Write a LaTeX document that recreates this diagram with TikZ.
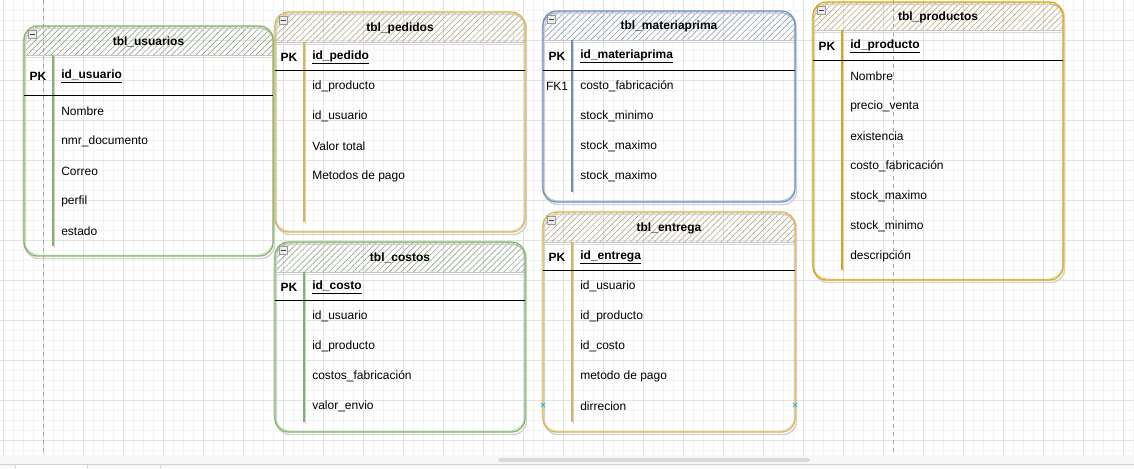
\documentclass[tikz,border=0pt]{standalone}
\usepackage{fontspec}
\setmainfont{Liberation Sans}
\usepackage{xcolor}
\usetikzlibrary{patterns.meta}
\definecolor{GreenLine}{HTML}{82B366}
\definecolor{GreenHatch}{HTML}{9AA991}
\definecolor{YellowLine}{HTML}{D6B656}
\definecolor{YellowHatch}{HTML}{B9B08E}
\definecolor{BlueLine}{HTML}{6C8EBF}
\definecolor{BlueHatch}{HTML}{98A6BA}
\definecolor{GoldLine}{HTML}{DCA40E}
\definecolor{GoldHatch}{HTML}{BFB084}
\definecolor{GridMinor}{HTML}{F3F3F3}
\definecolor{GridMajor}{HTML}{E2E2E2}
\definecolor{MarkBlue}{HTML}{29B6F2}

\begin{document}
\begin{tikzpicture}[
 x=0.75pt, y=-0.75pt,
 gridminor/.style={GridMinor, line width=0.5pt},
 gridmajor/.style={GridMajor, line width=0.6pt},
 pagebreak/.style={gray!70, dashed, line width=0.5pt},
 shadowline/.style={gray!35, line width=1.1pt, rounded corners=10},
 tableline/.style={line width=0.9pt, rounded corners=10},
 tabletitle/.style={font=\bfseries\fontsize{9}{11}\selectfont, inner sep=0pt, yshift=-1pt},
 keytext/.style={font=\bfseries\fontsize{9}{11}\selectfont, inner sep=0pt, yshift=-1.1pt},
 field/.style={anchor=west, font=\fontsize{9}{11}\selectfont, inner sep=0pt, yshift=-1.1pt},
 markline/.style={MarkBlue, line width=0.6pt}
]
\useasboundingbox (0,0) rectangle (1134,468);
\fill[white] (0,0) rectangle (1134,468);

% grid of the canvas
\foreach \gx in {3,13,...,1133} \draw[gridminor] (\gx,0) -- (\gx,455);
\foreach \gy in {10,20,...,450} \draw[gridminor] (0,\gy) -- (1134,\gy);
\foreach \gx in {3,43,...,1123} \draw[gridmajor] (\gx,0) -- (\gx,455);
\foreach \gy in {40,80,...,440} \draw[gridmajor] (0,\gy) -- (1134,\gy);
\draw[pagebreak] (43,0) -- (43,455);
\draw[pagebreak] (893,0) -- (893,455);

% bottom bar
\fill[gray!6] (0,455) rectangle (1134,468);
\fill[gray!30, rounded corners=2] (498,458) rectangle (810,462);
\draw[gray!35] (0,464) -- (1134,464);
\fill[white] (15,464.5) rectangle (87,468);
\draw[gray!35] (15,464) -- (15,468) (87,464) -- (87,468) (160,464) -- (160,468);

% tables
\foreach \n/\c/\h/\xa/\xb/\ta/\hb/\ln/\bt/\ti/\pk/\rows in {
 usuarios/GreenLine/GreenHatch/24/273/26/55/95/256/tbl\_usuarios/id\_usuario/{Nombre,nmr\_documento,Correo,perfil,estado},
 pedidos/YellowLine/YellowHatch/275/525/12/42/70/232/tbl\_pedidos/id\_pedido/{id\_producto,id\_usuario,Valor total,Metodos de pago},
 costos/GreenLine/GreenHatch/275/525/242/272/300/432/tbl\_costos/id\_costo/{id\_usuario,id\_producto,costos\_fabricación,valor\_envio},
 materiaprima/BlueLine/BlueHatch/543/795/11/40/70/202/tbl\_materiaprima/id\_materiaprima/{costo\_fabricación,stock\_minimo,stock\_maximo,stock\_maximo},
 entrega/YellowLine/YellowHatch/543/795/212/242/270/432/tbl\_entrega/id\_entrega/{id\_usuario,id\_producto,id\_costo,metodo de pago,dirrecion},
 productos/GoldLine/GoldHatch/813/1063/2/30/60/280/tbl\_productos/id\_producto/{Nombre,precio\_venta,existencia,costo\_fabricación,stock\_maximo,stock\_minimo,descripción}}{
 % header hatch
 \fill[pattern={Lines[angle=45,distance=3.2pt,line width=0.5pt]}, pattern color=\h]
  (\xa,\hb) [rounded corners=10] -- (\xa,\ta) -- (\xb,\ta) [sharp corners] -- (\xb,\hb) -- cycle;
 \draw[gray!45, line width=0.6pt] (\xa,\hb) -- (\xb,\hb);
 \draw[gray!30, line width=0.5pt] (\xa,\hb+2) -- (\xb,\hb+2);
 % outline, drawn twice like a sketch
 \draw[shadowline] (\xa+1.5,\ta+2.5) rectangle (\xb+1.5,\bt+2.5);
 \draw[tableline, color=\c] (\xa,\ta) rectangle (\xb,\bt);
 \draw[tableline, color=\c, opacity=0.55, line width=0.6pt, rounded corners=13] (\xa-1,\ta+1) rectangle (\xb+0.8,\bt-0.8);
 % key column
 \draw[gray!35, line width=0.9pt] (\xa+30.5,\hb+1) -- (\xa+30.5,\bt-8);
 \draw[color=\c, line width=0.9pt] (\xa+29,\hb) -- (\xa+29,\bt-10);
 \draw[black, line width=0.7pt] (\xa,\ln) -- (\xb,\ln);
 % collapse icon
 \draw[gray!80, fill=gray!15, line width=0.5pt] (\xa+4,\ta+4) rectangle (\xa+12,\ta+12);
 \draw[black!75, line width=0.6pt] (\xa+5.5,\ta+8) -- (\xa+10.5,\ta+8);
 % texts
 \node[tabletitle] (title-\n) at ({(\xa+\xb)/2},{(\ta+\hb)/2}) {\ti};
 \node[keytext] (pk-\n) at (\xa+14,{(\hb+\ln)/2}) {PK};
 \node[field, font=\bfseries\fontsize{9}{11}\selectfont] (key-\n) at (\xa+37,{(\hb+\ln)/2}) {\underline{\pk}};
 \foreach \r [count=\i] in \rows
  \node[field] (\n-\i) at (\xa+37,{\ln+30*\i-15}) {\r};
}
\node[field, anchor=center] (fk-materiaprima) at (557,85) {FK1};

% connection marks
\coordinate (markleft) at (543,405);
\coordinate (markright) at (795,405);
\foreach \m in {markleft,markright}
 \draw[markline] ([shift={(-2,-2)}]\m) -- ([shift={(2,2)}]\m) ([shift={(-2,2)}]\m) -- ([shift={(2,-2)}]\m);
\end{tikzpicture}
\end{document}
